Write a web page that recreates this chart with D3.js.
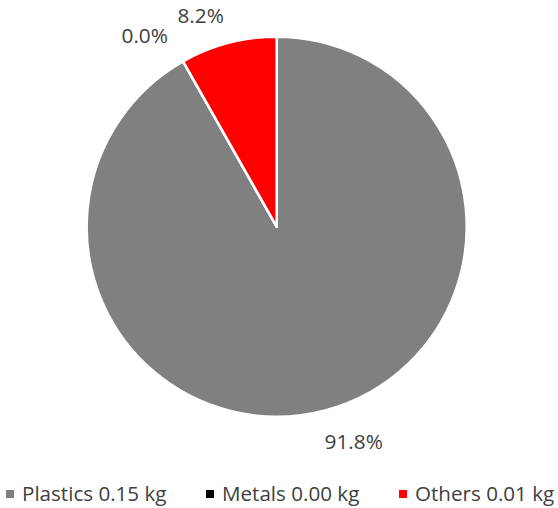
<!DOCTYPE html>
<html>
<head>
<meta charset="utf-8">
<script src="https://cdn.jsdelivr.net/npm/d3@7"></script>
<style>
  body { margin: 0; background: #fff; }
  text { font-family: "Open Sans", "Noto Sans", sans-serif; fill: #404040; }
</style>
</head>
<body>
<script>
// data
var categories = ["Plastics", "Metals", "Others"];
var shares = [91.8, 0.0, 8.2];
var weights = ["0.15", "0.00", "0.01"];
var colors = ["#808080", "#000000", "#ff0000"];

var width = 558, height = 508;
var cx = 276.7, cy = 226.7, radius = 190;

var data = categories.map(function(c, i) {
    return { name: c, share: shares[i], kg: weights[i], color: colors[i] };
});

var svg = d3.select("body").append("svg")
    .attr("width", width)
    .attr("height", height);

var g = svg.append("g")
    .attr("transform", "translate(" + cx + "," + cy + ")");

var pie = d3.pie()
    .sort(null)
    .value(function(d) { return d.share; });

var arc = d3.arc()
    .innerRadius(0)
    .outerRadius(radius);

var arcs = pie(data);

g.selectAll(".slice")
    .data(arcs)
    .enter().append("path")
    .attr("class", "slice")
    .attr("d", arc)
    .attr("fill", function(d) { return d.data.color; })
    .attr("stroke", "#fff")
    .attr("stroke-width", 2.5)
    .attr("stroke-linejoin", "round");

// labels outside the end, turned a little back so the zero one stays clear
var nudge = -0.087;
var labelR = [228, 233, 225];
function labelPos(d, i) {
    var a = (d.startAngle + d.endAngle) / 2 + nudge;
    return [Math.sin(a) * labelR[i], -Math.cos(a) * labelR[i]];
}
g.selectAll(".lbl")
    .data(arcs)
    .enter().append("text")
    .attr("class", "lbl")
    .attr("text-anchor", "middle")
    .attr("dominant-baseline", "central")
    .style("font-size", "20.8px")
    .attr("x", function(d, i) { return labelPos(d, i)[0]; })
    .attr("y", function(d, i) { return labelPos(d, i)[1]; })
    .text(function(d) { return d.data.share.toFixed(1) + "%"; });

// legend
var legendX = [6, 206, 399];
var legend = svg.selectAll(".leg")
    .data(data)
    .enter().append("g")
    .attr("class", "leg")
    .attr("transform", function(d, i) { return "translate(" + legendX[i] + ",494)"; });

legend.append("rect")
    .attr("x", 0)
    .attr("y", -4)
    .attr("width", 8)
    .attr("height", 8)
    .attr("fill", function(d) { return d.color; });

legend.append("text")
    .attr("x", 16)
    .attr("y", 7)
    .style("font-size", "20.6px")
    .text(function(d) { return d.name + " " + d.kg + " kg"; });
</script>
</body>
</html>
